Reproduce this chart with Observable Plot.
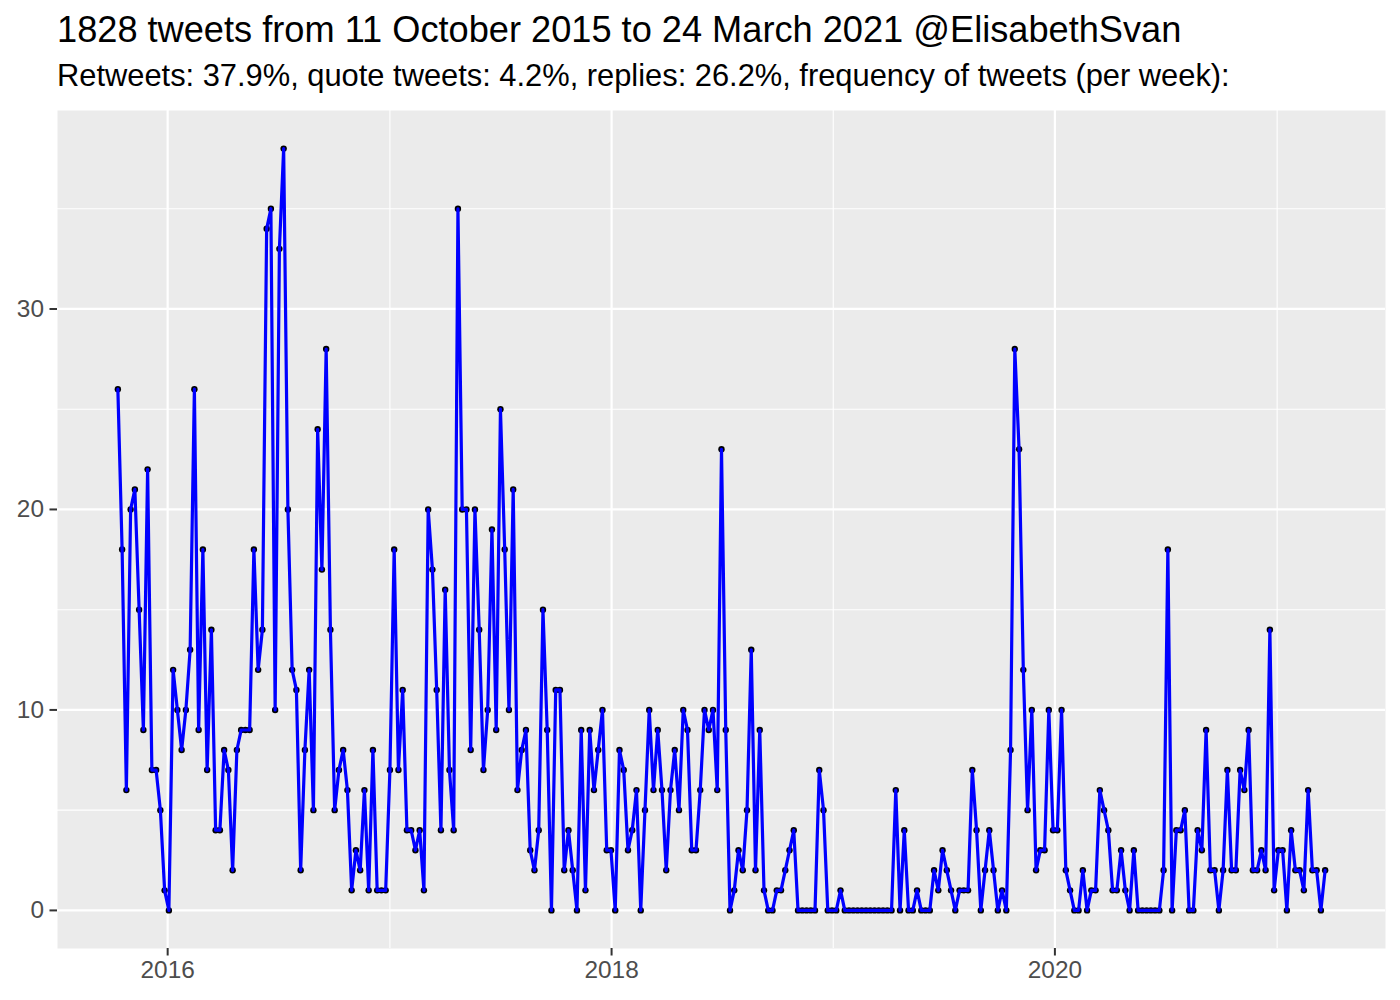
<!DOCTYPE html>
<html>
<head>
<meta charset="utf-8">
<script src="https://cdn.jsdelivr.net/npm/d3@7"></script>
<script src="https://cdn.jsdelivr.net/npm/@observablehq/plot@0.6"></script>
<style>
  body { margin: 0; background: #ffffff; font-family: "Liberation Sans", Arial, Helvetica, sans-serif; }
  #wrap { position: relative; width: 1400px; height: 1000px; background: #ffffff; }
  #title { position: absolute; left: 57px; top: 12px; font-size: 36.2px; line-height: 36.2px; white-space: nowrap; color: #000; }
  #subtitle { position: absolute; left: 57px; top: 61px; font-size: 30.85px; line-height: 30.85px; white-space: nowrap; color: #000; }
  #chart { position: absolute; left: 0; top: 100px; }
</style>
</head>
<body>
<div id="wrap">
  <div id="title"></div>
  <div id="subtitle"></div>
  <div id="chart"></div>
</div>
<script>
// ---- data ----
const titleText = "1828 tweets from 11 October 2015 to 24 March 2021 @ElisabethSvan";
const subtitleText = "Retweets: 37.9%, quote tweets: 4.2%, replies: 26.2%, frequency of tweets (per week):";

const firstWeek = "2015-10-11";
const lastWeek = "2021-03-21";

// tweets per week
const tweetsPerWeek = [
  26,18,6,20,21,15,9,22,7,7,5,1,0,12,10,8,10,13,26,9,18,7,
  14,4,4,8,7,2,8,9,9,9,18,12,14,34,35,10,33,38,20,12,11,2,8,12,
  5,24,17,28,14,5,7,8,6,1,3,2,6,1,8,1,1,1,7,18,7,11,4,
  4,3,4,1,20,17,11,4,16,7,4,35,20,20,8,20,14,7,10,19,9,25,18,10,
  21,6,8,9,3,2,4,15,9,0,11,11,2,4,2,0,9,1,9,6,8,10,3,
  3,0,8,7,3,4,6,0,5,10,6,9,6,2,6,8,5,10,9,3,3,6,10,
  9,10,6,23,9,0,1,3,2,5,13,2,9,1,0,0,1,1,2,3,4,0,0,0,
  0,0,7,5,0,0,0,1,0,0,0,0,0,0,0,0,0,0,0,0,6,0,4,0,
  0,1,0,0,0,2,1,3,2,1,0,1,1,1,7,4,0,2,4,2,0,1,0,
  8,28,23,12,5,10,2,3,3,10,4,4,10,2,1,0,0,2,0,1,1,6,5,4,
  1,1,3,1,0,3,0,0,0,0,0,0,2,18,0,4,4,5,0,0,4,3,9,
  2,2,0,2,7,2,2,7,6,9,2,2,3,2,14,1,3,3,0,4,2,2,1,6,2,2,0,2
];

const yMajorTicks = [0, 10, 20, 30];
const yMinorTicks = [5, 15, 25, 35];
const xMajorTicks = ["2016-01-01", "2018-01-01", "2020-01-01"];
const xMinorTicks = ["2017-01-01", "2019-01-01", "2021-01-01"];

// ---- build ----
document.getElementById("title").textContent = titleText;
document.getElementById("subtitle").textContent = subtitleText;

const weeks = d3.utcSunday.range(new Date(firstWeek), d3.utcDay.offset(new Date(lastWeek), 1));
const n = Math.min(weeks.length, tweetsPerWeek.length);
const data = d3.range(n).map(i => ({week: weeks[i], count: tweetsPerWeek[i]}));

const [t0, t1] = d3.extent(data, d => d.week);
const tspan = t1 - t0;
const xDomain = [new Date(+t0 - 0.05 * tspan), new Date(+t1 + 0.05 * tspan)];
const [v0, v1] = d3.extent(data, d => d.count);
const vspan = v1 - v0;
const yDomain = [v0 - 0.05 * vspan, v1 + 0.05 * vspan];

const xMaj = xMajorTicks.map(s => new Date(s));
const xMin = xMinorTicks.map(s => new Date(s));

const chart = Plot.plot({
  width: 1400,
  height: 900,
  marginTop: 10,
  marginBottom: 52,
  marginLeft: 57,
  marginRight: 15,
  style: {fontFamily: '"Liberation Sans", Arial, Helvetica, sans-serif', fontSize: "24.4px", background: "transparent", color: "#4D4D4D"},
  x: {type: "utc", domain: xDomain},
  y: {domain: yDomain},
  marks: [
    Plot.frame({fill: "#EBEBEB", stroke: null}),
    Plot.ruleY(yMinorTicks, {stroke: "#ffffff", strokeWidth: 1.1}),
    Plot.ruleX(xMin, {stroke: "#ffffff", strokeWidth: 1.1}),
    Plot.ruleY(yMajorTicks, {stroke: "#ffffff", strokeWidth: 2.2}),
    Plot.ruleX(xMaj, {stroke: "#ffffff", strokeWidth: 2.2}),
    Plot.dot(data, {x: "week", y: "count", r: 3.2, fill: "#000000", stroke: null}),
    Plot.line(data, {x: "week", y: "count", stroke: "#0000FF", strokeWidth: 3.2}),
    Plot.axisY(yMajorTicks, {tickSize: 7.5, tickPadding: 6, stroke: "#333333", strokeWidth: 2, fill: "#4D4D4D", fontSize: 24.4, label: null}),
    Plot.axisX(xMaj, {tickSize: 7.5, tickPadding: 5, stroke: "#333333", strokeWidth: 2, fill: "#4D4D4D", fontSize: 24.4, tickFormat: d3.utcFormat("%Y"), label: null})
  ]
});
document.getElementById("chart").appendChild(chart);
</script>
</body>
</html>
